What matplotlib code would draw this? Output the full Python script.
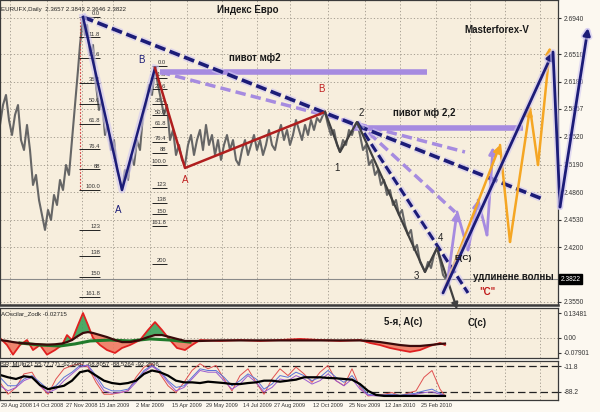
import numpy as np
import matplotlib
matplotlib.use("Agg")
import matplotlib.pyplot as plt
import matplotlib.patheffects as pe

plt.rcParams['font.family'] = ['Liberation Sans', 'DejaVu Sans']

# ---------------- data ----------------
# daily closes, x = bar number
price_x = [0, 3, 6, 9, 12, 15, 18, 21, 24, 27, 30, 33, 36, 39, 42, 45, 48, 51, 54, 57,
           60, 63, 66, 69, 72, 75, 78, 80, 83, 85, 87, 90, 93, 96, 99, 102, 105, 108, 111, 114,
           117, 120, 122, 125, 128, 131, 134, 137, 140, 143, 146, 149, 152, 155, 158, 161, 164, 167, 170, 173,
           176, 179, 182, 185, 188, 191, 194, 197, 200, 203, 206, 209, 212, 215, 218, 221, 224, 227, 230, 233,
           236, 239, 242, 245, 248, 251, 254, 257, 260, 263, 266, 269, 272, 275, 278, 281, 284, 287, 290, 293,
           296, 299, 302, 305, 308, 311, 314, 317, 320, 323, 325, 328, 331, 334, 337, 340, 343, 346, 349, 352,
           355, 357, 360, 363, 366, 369, 372, 375, 378, 381, 384, 387, 390, 393, 396, 399, 402, 405, 408, 411,
           414, 417, 420, 423, 425, 428, 431, 434, 437, 440, 443, 445]
price = [2.5663, 2.5901, 2.6021, 2.5722, 2.5543, 2.5782, 2.5901, 2.5483, 2.5364, 2.5663,
         2.5364, 2.4946, 2.5066, 2.4767, 2.4588, 2.4409, 2.4648, 2.4528, 2.4827, 2.4707,
         2.5006, 2.4886, 2.5185, 2.5066, 2.5483, 2.5901, 2.6319, 2.6618, 2.6952, 2.6737,
         2.6857, 2.6498, 2.6618, 2.6140, 2.5842, 2.5961, 2.5543, 2.5663, 2.5364, 2.5483,
         2.5125, 2.5006, 2.4886, 2.5125, 2.5006, 2.5304, 2.5185, 2.5483, 2.5364, 2.5782,
         2.5901, 2.6140, 2.6021, 2.6343, 2.6140, 2.5961, 2.5782, 2.5901, 2.5483, 2.5603,
         2.5304, 2.5424, 2.5245, 2.5185, 2.5424, 2.5543, 2.5304, 2.5483, 2.5603, 2.5364,
         2.5663, 2.5424, 2.5543, 2.5304, 2.5483, 2.5245, 2.5424, 2.5543, 2.5364, 2.5483,
         2.5245, 2.5185, 2.5364, 2.5483, 2.5304, 2.5424, 2.5543, 2.5364, 2.5483, 2.5304,
         2.5424, 2.5603, 2.5424, 2.5364, 2.5543, 2.5663, 2.5483, 2.5603, 2.5424, 2.5543,
         2.5722, 2.5603, 2.5483, 2.5663, 2.5543, 2.5722, 2.5603, 2.5746, 2.5698, 2.5782,
         2.5818, 2.5663, 2.5543, 2.5603, 2.5424, 2.5340, 2.5483, 2.5424, 2.5603, 2.5543,
         2.5663, 2.5698, 2.5543, 2.5364, 2.5424, 2.5185, 2.5245, 2.5066, 2.5125, 2.4946,
         2.5006, 2.4827, 2.4886, 2.4707, 2.4767, 2.4588, 2.4648, 2.4469, 2.4349, 2.4409,
         2.4170, 2.4230, 2.4027, 2.3955, 2.3907, 2.4027, 2.3955, 2.4110, 2.4194, 2.4051,
         2.3872, 2.3836]
last_price = 2.3822
price_ticks = [2.6940, 2.6510, 2.6180, 2.5857, 2.5520, 2.5190, 2.4860, 2.4530, 2.4200, 2.3550]

# wave markup (bar, price)
blue_wave_x = [83, 122, 155]
blue_wave_y = [2.6952, 2.4886, 2.6343]
red_wave_x = [155, 185, 325]
red_wave_y = [2.6343, 2.5149, 2.5818]
grey_wave_x = [325, 340, 357, 425, 437]
grey_wave_y = [2.5818, 2.5340, 2.5698, 2.3907, 2.4194]
grey_arrow_x = [437, 458]
grey_arrow_y = [2.4194, 2.3430]

navy_dash_1 = ([83, 545], [2.6952, 2.4767])
navy_dash_2 = ([357, 468], [2.5698, 2.3657])
lav_dash_1 = ([160, 465], [2.6295, 2.5340])
lav_dash_2 = ([357, 455], [2.5698, 2.4624])
pivot_1 = ([160, 427], 2.6295)
pivot_2 = ([352, 523], 2.5627)

navy_path_x = [443, 553, 560, 588]
navy_path_y = [2.3657, 2.6534, 2.4683, 2.6821]
orange_path_x = [443, 500, 510, 530, 538, 550]
orange_path_y = [2.3657, 2.5424, 2.4266, 2.5865, 2.5185, 2.6594]
purple_path_x = [447, 457, 468, 478, 487, 493]
purple_path_y = [2.3752, 2.4624, 2.4170, 2.4767, 2.4349, 2.5400]

fib_levels_l = [0, 11.8, 23.6, 38.2, 50, 61.8, 76.4, 88, 100, 123, 138, 150, 161.8]
fib_labels_l = ["0.0", "11.8", "23.6", "38.2", "50.0", "61.8", "76.4", "88", "100.0",
                "123", "138", "150", "161.8"]
fib_hi_l, fib_lo_l = 2.6952, 2.4886
fib_levels_r = [0, 11.8, 23.6, 38.2, 50, 61.8, 76.4, 88, 100, 123, 138, 150, 161.8, 200]
fib_labels_r = ["0.0", "11.8", "23.6", "38.2", "50.0", "61.8", "76.4", "88", "100.0",
                "123", "138", "150", "161.8", "200"]
fib_hi_r, fib_lo_r = 2.6367, 2.5185

date_pos = [1, 48, 82, 114, 150, 187, 222, 257, 290, 328, 365, 400, 436]
date_labels = ["29 Aug 2008", "14 Oct 2008", "27 Nov 2008", "15 Jan 2009", "2 Mar 2009",
               "15 Apr 2009", "29 May 2009", "14 Jul 2009", "27 Aug 2009", "12 Oct 2009",
               "25 Nov 2009", "12 Jan 2010", "25 Feb 2010"]
grid_x = [10, 47, 82, 113, 150, 187, 222, 257, 290, 328, 365, 400, 436, 470, 505, 540]

# oscillator panel
osc_x = [0, 7, 13, 20, 27, 33, 40, 47, 55, 62, 67, 72, 78, 83, 88, 93, 100, 107, 115, 122,
         130, 140, 148, 155, 162, 170, 177, 185, 192, 200, 220, 240, 260, 280, 300, 320, 340,
         360, 370, 380, 390, 400, 410, 420, 430, 440, 445]
osc = [0.0, -0.038, -0.09, -0.038, -0.011, -0.065, -0.038, -0.09, -0.065, -0.038, 0.016,
       -0.011, 0.07, 0.135, 0.07, 0.0, -0.038, -0.065, -0.081, -0.054, -0.038, -0.011, 0.043,
       0.086, 0.043, -0.011, -0.054, -0.065, -0.038, -0.011, -0.016, -0.011, -0.016, -0.011,
       -0.005, -0.011, -0.016, -0.011, -0.027, -0.038, -0.054, -0.065, -0.075, -0.065, -0.043,
       -0.027, -0.038]
osc_sig = [-0.011, -0.016, -0.022, -0.027, -0.030, -0.032, -0.034, -0.036, -0.034, -0.030,
           -0.022, -0.011, 0.011, 0.027, 0.032, 0.027, 0.016, 0.005, -0.011, -0.022, -0.022,
           -0.011, 0.005, 0.016, 0.016, 0.005, -0.005, -0.016, -0.016, -0.016, -0.013, -0.013,
           -0.013, -0.013, -0.013, -0.013, -0.013, -0.013, -0.016, -0.022, -0.030, -0.038,
           -0.043, -0.043, -0.038, -0.032, -0.030]
osc_ma_x = [20, 40, 60, 75, 90, 110, 130, 150, 170, 190]
osc_ma = [-0.027, -0.038, -0.043, -0.032, -0.016, -0.011, -0.016, -0.005, -0.011, -0.022]

# SR_MUlt panel
sr_x = list(range(0, 441, 8)) + [445]
sr_black = [-38, -45, -50, -42, -45, -68, -80, -75, -70, -55, -30, -25, -40, -55, -62, -65, -62,
            -55, -35, -25, -30, -40, -55, -60, -60, -62, -58, -60, -62, -65, -65, -62, -60, -55,
            -55, -58, -55, -52, -45, -45, -45, -47, -48, -50, -52, -65, -85, -97, -100, -100,
            -100, -100, -100, -100, -100, -100, -100]
sr_red = [-60, -95, -75, -35, -30, -70, -95, -50, -20, -10, -5, -15, -60, -95, -95, -90, -85,
          -45, -15, -5, -35, -70, -90, -60, -25, -5, -20, -10, -50, -85, -40, -20, -60, -95, -50,
          -20, -40, -15, -35, -60, -30, -10, -55, -70, -20, -75, -100, -98, -95, -90, -100, -92,
          -85, -45, -25, -80, -100]
sr_blue = [-45, -70, -70, -50, -40, -60, -80, -70, -45, -30, -10, -10, -40, -75, -85, -85, -80,
           -55, -25, -10, -25, -55, -75, -70, -45, -20, -25, -25, -45, -70, -55, -35, -50, -80,
           -65, -40, -45, -30, -40, -55, -45, -25, -45, -60, -40, -70, -95, -98, -97, -95, -98,
           -95, -92, -85, -80, -92, -100]
sr_purple = [-70, -85, -75, -55, -45, -70, -90, -80, -55, -35, -15, -10, -50, -85, -92, -90, -85,
             -60, -30, -12, -30, -60, -85, -75, -50, -25, -30, -30, -55, -80, -65, -40, -60, -88,
             -75, -50, -55, -40, -50, -65, -55, -35, -55, -70, -50, -80, -98, -100, -99, -98,
             -100, -98, -95, -90, -88, -95, -100]
sr_levels = [-11.8, -88.2]

# ---------------- style ----------------
BG = '#f7eedd'
NAVY = '#1c1c78'
LAV = '#a68be0'
ORANGE = '#f5a623'
GRID = '#9c9588'
halo = [pe.Stroke(linewidth=5, foreground='#cfc6f2', alpha=0.6), pe.Normal()]


def fxy(x, y):
    # figure-pixel position -> figure fraction
    return x / 600, 1 - y / 412


fig = plt.figure(figsize=(6, 4.12), dpi=100, facecolor='#fcf8f0')
ax = fig.add_axes([0, (412 - 305) / 412, 558 / 600, 305 / 412], facecolor=BG)
ax1 = fig.add_axes([0, (412 - 358) / 412, 558 / 600, 50 / 412], facecolor=BG, sharex=ax)
ax2 = fig.add_axes([0, (412 - 400) / 412, 558 / 600, 39 / 412], facecolor=BG, sharex=ax)

for a in (ax, ax1, ax2):
    for s in a.spines.values():
        s.set_color('#3a3a3a')
        s.set_linewidth(0.9)
    a.yaxis.tick_right()
    a.tick_params(axis='y', labelsize=4.8, colors='#333333', length=2, pad=2)
    a.tick_params(axis='x', length=0)
    for gx in grid_x:
        a.axvline(gx, color=GRID, lw=0.6, ls=(0, (1.5, 2.5)), zorder=0)
ax.spines['bottom'].set_linewidth(1.8)

ax.set_xlim(0, 558)
ax.set_ylim(2.3513, 2.7155)

# ---------------- main panel ----------------
ax.set_yticks(price_ticks)
ax.set_yticklabels([f'{p:.4f}' for p in price_ticks])
for p in price_ticks:
    ax.axhline(p, color=GRID, lw=0.6, ls=(0, (1.5, 2.5)), zorder=0)
ax.axhline(last_price, color='#8a8a8a', lw=0.8, zorder=1)
ax.text(1.004, last_price, f'{last_price:.4f}', transform=ax.get_yaxis_transform(),
        fontsize=4.8, color='white', va='center', ha='left',
        bbox=dict(boxstyle='square,pad=0.2', fc='black', ec='black'), clip_on=False)
plt.setp(ax.get_xticklabels(), visible=False)
plt.setp(ax1.get_xticklabels(), visible=False)

ax.plot(price_x, price, color='#666666', lw=1.5, zorder=2)

# fibonacci grids
ax.vlines(80, fib_lo_l, fib_hi_l, color='#d04040', lw=0.8, ls=(0, (1.5, 1.5)), zorder=2)
for lv, lb in zip(fib_levels_l, fib_labels_l):
    y = fib_hi_l - lv / 100 * (fib_hi_l - fib_lo_l)
    ax.hlines(y, 79, 100, color='#222222', lw=0.7, zorder=3)
    ax.text(100, y + 0.0008, lb, fontsize=4.2, ha='right', va='bottom', color='#333333')
for lv, lb in zip(fib_levels_r, fib_labels_r):
    y = fib_hi_r - lv / 100 * (fib_hi_r - fib_lo_r)
    ax.hlines(y, 152, 167, color='#222222', lw=0.7, zorder=3)
    ax.text(166, y + 0.0008, lb, fontsize=4.2, ha='right', va='bottom', color='#333333')

# pivots
ax.hlines(pivot_1[1], *pivot_1[0], color=LAV, lw=4, zorder=3)
ax.hlines(pivot_2[1], *pivot_2[0], color=LAV, lw=4, zorder=3)

# trend lines
ax.plot(*lav_dash_1, color=LAV, lw=2.5, ls=(0, (3, 1.5)), zorder=4)
ax.plot(*lav_dash_2, color=LAV, lw=2.5, ls=(0, (3, 1.5)), zorder=4)
ax.plot(*navy_dash_1, color=NAVY, lw=2.6, ls=(0, (3, 1.3)), zorder=5, path_effects=halo)
ax.plot(*navy_dash_2, color=NAVY, lw=2.2, ls=(0, (3, 1.3)), zorder=5, path_effects=halo)

# wave lines
ax.plot(blue_wave_x, blue_wave_y, color=NAVY, lw=1.8, zorder=6, path_effects=halo)
ax.plot(red_wave_x, red_wave_y, color='#b01e1e', lw=1.8, zorder=6)
ax.plot(grey_wave_x, grey_wave_y, color='#404040', lw=1.6, zorder=6)
ax.annotate('', xy=(grey_arrow_x[1], grey_arrow_y[1]), xytext=(grey_arrow_x[0], grey_arrow_y[0]),
            arrowprops=dict(arrowstyle='-|>', color='#404040', lw=1.6, mutation_scale=9),
            annotation_clip=False, zorder=6)


def arrow_path(xs, ys, color, lw, z, effects=None):
    for i in range(len(xs) - 1):
        up = ys[i + 1] > ys[i]
        last = i == len(xs) - 2
        style = '-|>' if (up or last) else '-'
        ann = ax.annotate('', xy=(xs[i + 1], ys[i + 1]), xytext=(xs[i], ys[i]),
                          arrowprops=dict(arrowstyle=style, color=color, lw=lw,
                                          mutation_scale=10, shrinkA=0, shrinkB=0),
                          annotation_clip=False, zorder=z)
        if effects:
            ann.arrow_patch.set_path_effects(effects)


arrow_path(purple_path_x, purple_path_y, LAV, 2.0, 7)
arrow_path(orange_path_x, orange_path_y, ORANGE, 1.8, 7)
arrow_path(navy_path_x, navy_path_y, NAVY, 2.0, 8,
           [pe.Stroke(linewidth=4.5, foreground='#cfc6f2', alpha=0.6), pe.Normal()])

# ---------------- oscillator panel ----------------
ax1.set_ylim(-0.108, 0.162)
ax1.set_yticks([0.13481, 0.0, -0.07901])
ax1.set_yticklabels(['0.13481', '0.00', '-0.07901'])
ax1.axhline(0, color=GRID, lw=0.6, ls=(0, (1.5, 2.5)), zorder=0)
o = np.array(osc)
s = np.array(osc_sig)
ax1.fill_between(osc_x, o, s, where=o >= s, color='#3aa35a', alpha=0.9, interpolate=True, lw=0)
ax1.fill_between(osc_x, o, s, where=o < s, color='#ef7a62', alpha=0.9, interpolate=True, lw=0)
ax1.plot(osc_x, osc, color='#e02020', lw=1.3)
ax1.plot(osc_ma_x, osc_ma, color='#1f7a2a', lw=2.2)
ax1.plot(osc_x, osc_sig, color='#3a0a0a', lw=1.6)
ax1.text(0.002, 0.93, 'AOscilar_Zodk -0.02715', transform=ax1.transAxes, fontsize=4.4,
         va='top', ha='left', color='#222222')

# ---------------- SR panel ----------------
ax2.set_ylim(-112, 3)
ax2.set_yticks(sr_levels)
ax2.set_yticklabels([str(v) for v in sr_levels])
for lv in sr_levels:
    ax2.axhline(lv, color='#222222', lw=0.9, ls=(0, (6, 3)))
ax2.plot(sr_x, sr_red, color='#e05050', lw=0.7)
ax2.plot(sr_x, sr_blue, color='#5a72d8', lw=0.7)
ax2.plot(sr_x, sr_purple, color='#9a5ad0', lw=0.7)
ax2.plot(sr_x, sr_black, color='black', lw=1.6)
ax2.text(0.002, 0.97, 'SR_MUlt(21,55,77,77) -62.0987 -68.8057 -88.5264 -92.3596',
         transform=ax2.transAxes, fontsize=4.2, va='top', ha='left', color='#222222')
ax2.set_xticks(date_pos)
ax2.set_xticklabels(date_labels, fontsize=4.0, color='#333333')
ax2.get_xticklabels()[0].set_horizontalalignment('left')
ax2.tick_params(axis='x', pad=2)

# ---------------- texts ----------------
fig.text(*fxy(1, 9), 'EURUFX,Daily  2.3657 2.3843 2.3646 2.3822', fontsize=4.4,
         va='center', color='#222222')
bold = dict(fontweight='bold', color='#1a1a1a', va='center')
fig.text(*fxy(248, 10), 'Индекс Евро', fontsize=7, ha='center', **bold)
fig.text(*fxy(497, 30), 'Masterforex-V', fontsize=7, ha='center', **bold)
fig.text(*fxy(255, 58), 'пивот мф2', fontsize=7, ha='center', **bold)
fig.text(*fxy(424, 113), 'пивот мф 2,2', fontsize=7, ha='center', **bold)
fig.text(*fxy(513, 277), 'удлинене волны', fontsize=7, ha='center', **bold)
fig.text(*fxy(403, 322), '5-я, A(c)', fontsize=7, ha='center', **bold)
fig.text(*fxy(477, 323), 'C(c)', fontsize=7, ha='center', **bold)
fig.text(*fxy(487, 292), '"C"', fontsize=7, ha='center', fontweight='bold', color='#c01818',
         va='center')
fig.text(*fxy(463, 258), 'E(C)', fontsize=6, ha='center', **bold)
marks = [('B', 141, 60, NAVY), ('A', 118, 210, NAVY), ('A', 185, 180, '#c02020'),
         ('B', 321, 89, '#c02020'), ('1', 337, 168, '#222222'), ('2', 361, 113, '#222222'),
         ('3', 416, 276, '#222222'), ('4', 441, 238, '#222222')]
for t, x, y, c in marks:
    fig.text(*fxy(x, y), t, fontsize=7, ha='center', va='center', color=c)

fig.savefig('out.png', dpi=100, facecolor=fig.get_facecolor())
